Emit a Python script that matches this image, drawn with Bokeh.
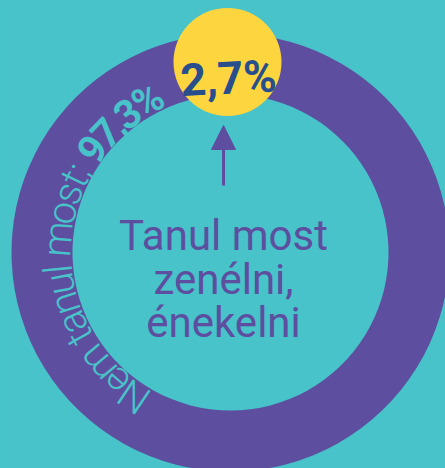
import math
from bokeh.plotting import figure
from bokeh.models import Range1d, Arrow, NormalHead, ColumnDataSource
from bokeh.embed import file_html
from bokeh.resources import INLINE
from bokeh.core.properties import value

# ---------------- data ----------------
categories = ["Nem tanul most", "Tanul most zenélni, énekelni"]
shares = [97.3, 2.7]
center_lines = ["Tanul most", "zenélni,", "énekelni"]


def fmt(v):
    return f"{v:.1f}".replace(".", ",") + "%"


# ---------------- style ----------------
BG = "#47C3C9"
PURPLE = "#5E4E9F"
YELLOW = "#FDD63F"
NAVY = "#284F8C"

W, H = 445, 468
p = figure(width=W, height=H, x_range=Range1d(0, W), y_range=Range1d(0, H),
           output_backend="svg", toolbar_location=None, min_border=0,
           background_fill_color=BG, border_fill_color=BG, outline_line_color=None)
p.xaxis.visible = False
p.yaxis.visible = False
p.xgrid.visible = False
p.ygrid.visible = False

cx, cy = 230, 216
r_in, r_out = 158, 219
r_mid = (r_in + r_out) / 2

total = sum(shares)
small = shares[1] / total * 2 * math.pi
s_start = math.pi / 2 - small / 2
s_end = math.pi / 2 + small / 2

ring = ColumnDataSource(dict(
    x=[cx, cx], y=[cy, cy],
    start=[s_end, s_start], end=[s_start + 2 * math.pi, s_end],
    color=[PURPLE, YELLOW]))
p.annular_wedge(x="x", y="y", inner_radius=r_in, outer_radius=r_out,
                start_angle="start", end_angle="end", direction="anticlock",
                fill_color="color", line_color=None, source=ring)

# yellow badge on the small slice
mid = (s_start + s_end) / 2
bx, by = cx + r_mid * math.cos(mid) - 3, cy + r_mid * math.sin(mid) + 2
p.circle(x=[bx], y=[by], radius=54, fill_color=YELLOW, line_color=None)
FS = 45
p.text(x=[bx + 1], y=[by - FS * 0.36], text=[fmt(shares[1])], angle=0.05,
       text_align="center", text_baseline="alphabetic",
       text_font=value("Roboto"), text_font_style="bold",
       text_font_size=f"{FS}px", text_color=NAVY)

# arrow
p.add_layout(Arrow(x_start=223, y_start=283, x_end=223, y_end=343,
                   line_color=PURPLE, line_width=3,
                   end=NormalHead(size=24, fill_color=PURPLE, line_color=PURPLE)))

# centre label
p.text(x=[223] * len(center_lines), y=[233 - 43.5 * i for i in range(len(center_lines))],
       text=center_lines, text_align="center", text_baseline="alphabetic",
       text_font=value("Roboto"), text_font_size="42px", text_color=PURPLE)

# curved label along the ring
adv = {"N": .699, "e": .529, "m": .855, " ": .248, "t": .319, "a": .531, "n": .539,
       "u": .538, "l": .237, "o": .557, "s": .517, ":": .236, ";": .22, ",": .2,
       "%": .73, "0": .561, "1": .561, "2": .561, "3": .561, "4": .561, "5": .561,
       "6": .561, "7": .561, "8": .561, "9": .561}
CF = 40
r_base = 173
theta0 = math.radians(240.6)
parts = [(categories[0] + "; ", "Roboto Light", "normal", 0.95),
         (fmt(shares[0]), "Roboto", "bold", 0.95)]
pos = 0.0
for txt, font, style, k in parts:
    xs, ys, angs, chars = [], [], [], []
    for ch in txt:
        w = adv.get(ch, 0.55) * CF * k
        th = theta0 - (pos + w / 2) / r_base
        xs.append(cx + r_base * math.cos(th))
        ys.append(cy + r_base * math.sin(th))
        angs.append(th - math.pi / 2)
        chars.append(ch)
        pos += w
    p.text(x=xs, y=ys, text=chars, angle=angs, text_align="center",
           text_baseline="alphabetic", text_font=value(font), text_font_style=style,
           text_font_size=f"{CF}px", text_color=BG)

html = file_html(p, INLINE, title="chart")
html = html.replace("</head>", f"<style>html,body{{background:{BG};}}</style></head>", 1)
open("out.html", "w").write(html)
